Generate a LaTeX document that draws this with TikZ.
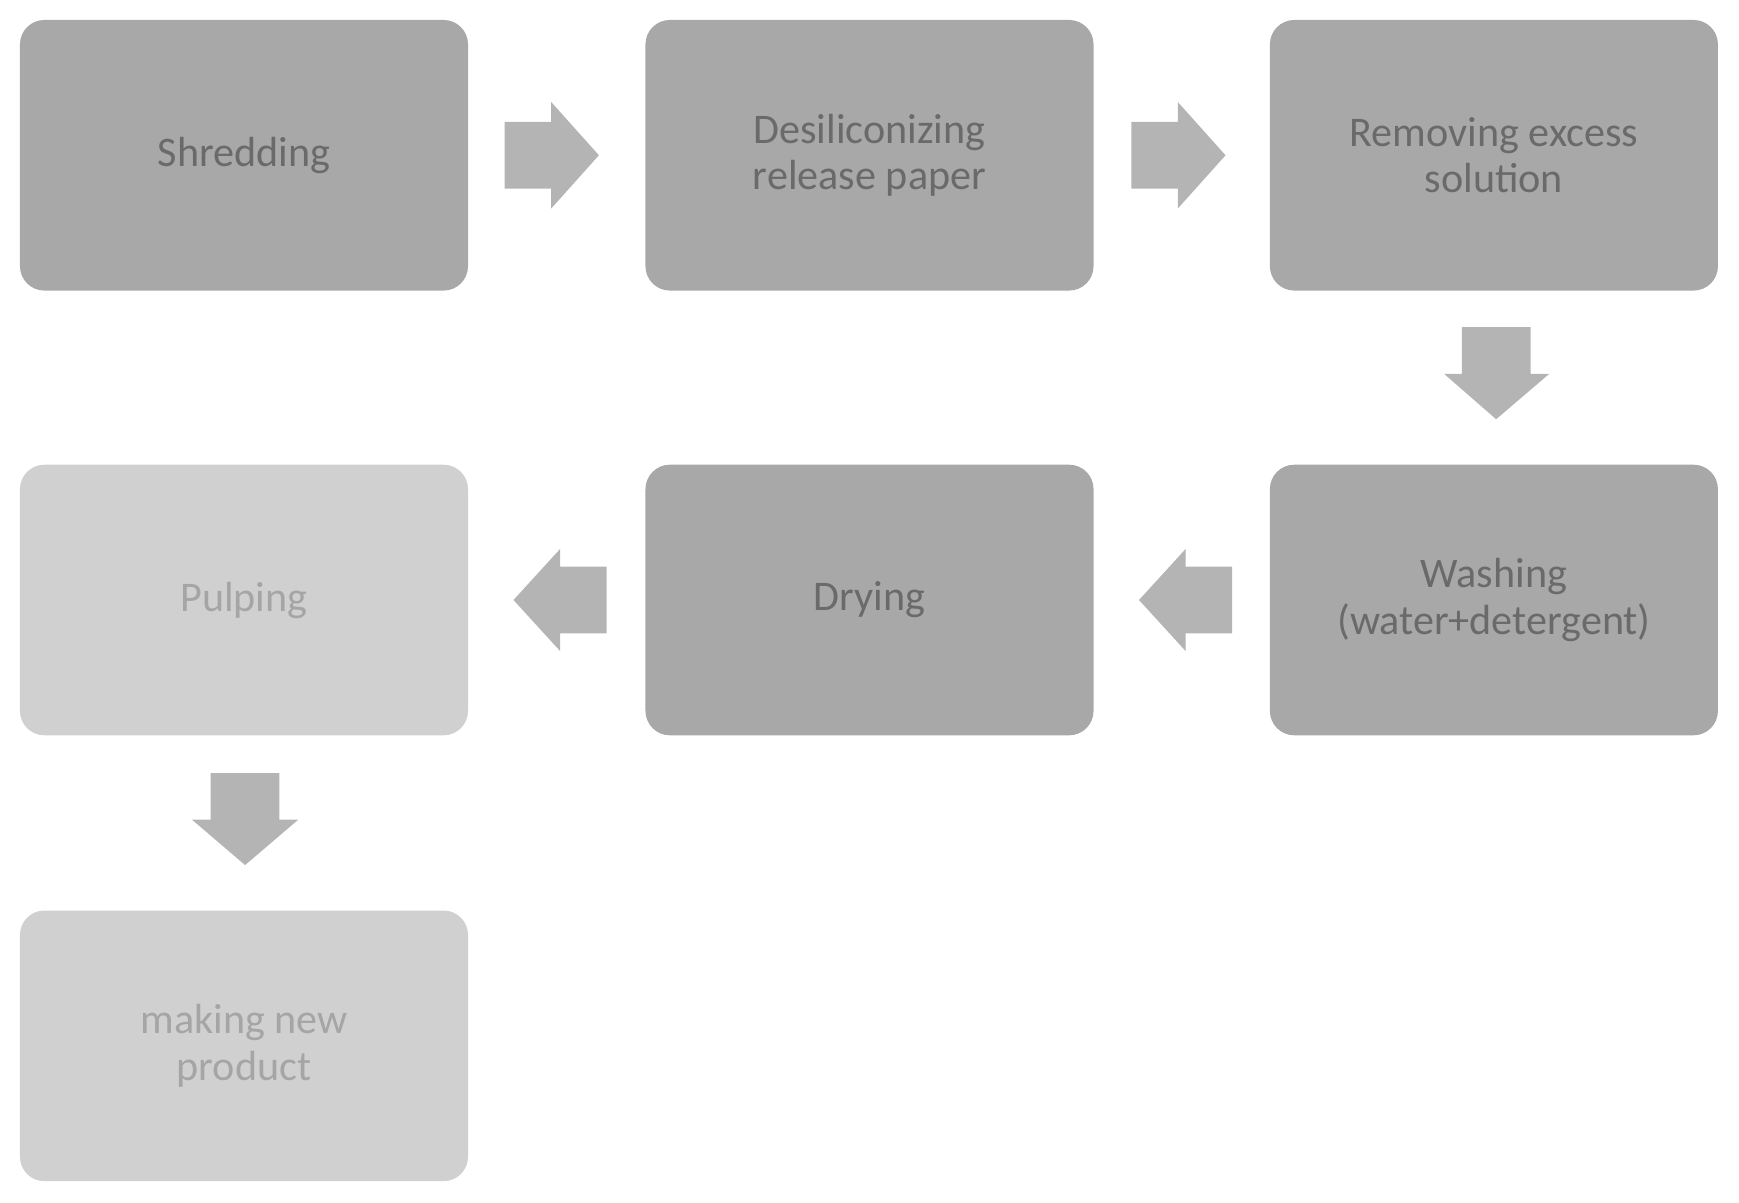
\documentclass[tikz,border=0pt]{standalone}
\usepackage{fontspec}
\setmainfont{Carlito}
\usetikzlibrary{shapes.arrows}
\definecolor{dk}{HTML}{A8A8A8}
\definecolor{lt}{HTML}{D0D0D0}
\definecolor{tx}{HTML}{6A6A6A}
\definecolor{ar}{HTML}{B4B4B4}
\begin{document}
\begin{tikzpicture}[x=1pt,y=-1pt,
  box/.style={draw=none,rounded corners=22pt,minimum width=404pt,minimum height=244pt,align=center,text=tx,font=\fontsize{38}{42}\selectfont,inner sep=0pt},
  dark/.style={box,fill=dk},
  light/.style={box,fill=lt,text=tx!60},
  arr/.style={fill=ar,draw=none}]
\useasboundingbox (0,0) rectangle (1568,1084);
\node[dark] (a) at (220,140) {Shredding};
\node[dark] (b) at (784,140) {Desiliconizing\\release paper};
\node[dark] (c) at (1347,140) {Removing excess\\solution};
\node[dark] (d) at (1347,541) {Washing\\(water+detergent)};
\node[dark] (e) at (784,541) {Drying};
\node[light] (f) at (220,541) {Pulping};
\node[light] (g) at (220,943) {making new\\product};
% arrows
\coordinate (a1) at (455,140);
\fill[arr] (a1) ++(0,-30) -- ++(42,0) -- ++(0,-18) -- ++(43,48) -- ++(-43,48) -- ++(0,-18) -- ++(-42,0) -- cycle;
\coordinate (b1) at (1020,140);
\fill[arr] (b1) ++(0,-30) -- ++(42,0) -- ++(0,-18) -- ++(43,48) -- ++(-43,48) -- ++(0,-18) -- ++(-42,0) -- cycle;
\coordinate (c1) at (1349,295);
\fill[arr] (c1) ++(-31,0) -- ++(0,42) -- ++(-16,0) -- ++(47,41) -- ++(48,-41) -- ++(-17,0) -- ++(0,-42) -- cycle;
\coordinate (d1) at (1111,541);
\fill[arr] (d1) ++(0,-30) -- ++(-42,0) -- ++(0,-16) -- ++(-42,46) -- ++(42,46) -- ++(0,-16) -- ++(42,0) -- cycle;
\coordinate (e1) at (547,541);
\fill[arr] (e1) ++(0,-30) -- ++(-42,0) -- ++(0,-16) -- ++(-42,46) -- ++(42,46) -- ++(0,-16) -- ++(42,0) -- cycle;
\coordinate (f1) at (221,697);
\fill[arr] (f1) ++(-31,0) -- ++(0,42) -- ++(-17,0) -- ++(48,41) -- ++(48,-41) -- ++(-17,0) -- ++(0,-42) -- cycle;
\end{tikzpicture}
\end{document}
